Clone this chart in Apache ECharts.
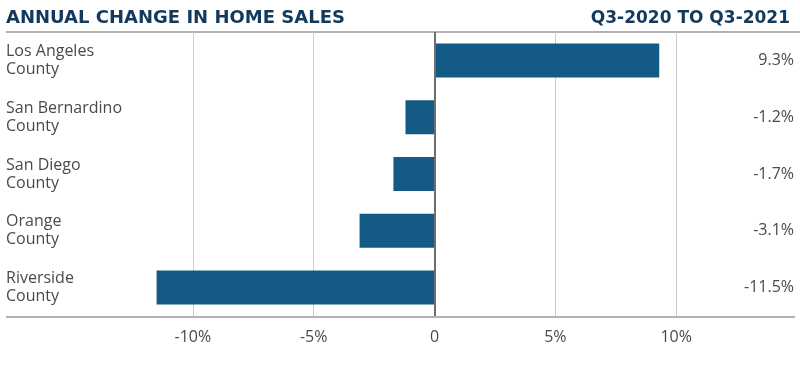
<!DOCTYPE html>
<html>
<head>
<meta charset="utf-8">
<script src="https://cdn.jsdelivr.net/npm/echarts@6/dist/echarts.min.js"></script>
<style>html,body{margin:0;padding:0;background:#fff;}#c{width:800px;height:367px;}</style>
</head>
<body>
<div id="c"></div>
<script>
const categories = ['Los Angeles\nCounty', 'San Bernardino\nCounty', 'San Diego\nCounty', 'Orange\nCounty', 'Riverside\nCounty'];
const values = [9.3, -1.2, -1.7, -3.1, -11.5];
const valueLabels = ['9.3%', '-1.2%', '-1.7%', '-3.1%', '-11.5%'];
const xTicks = [-15, -10, -5, 0, 5, 10, 15];
const titleText = 'ANNUAL CHANGE IN HOME SALES';
const subtitleText = 'Q3-2020 TO Q3-2021';

const chart = echarts.init(document.getElementById('c'), null, {renderer: 'canvas'});
const labelFont = 'Open Sans';
const navy = '#133a5e';
const textGray = '#4a4a4a';
chart.setOption({
  animation: false,
  grid: {left: 72, right: 1, top: 32, height: 284},
  xAxis: {
    type: 'value', min: -15, max: 15, interval: 5,
    axisLine: {show: false}, axisTick: {show: false},
    splitLine: {show: true, showMinLine: false, showMaxLine: false, lineStyle: {color: '#cccccc', width: 1}},
    axisLabel: {
      margin: 13, color: textGray, fontSize: 16, fontFamily: labelFont,
      formatter: v => (v === -15 || v === 15) ? '' : (v === 0 ? '0' : v + '%')
    }
  },
  yAxis: [{
    type: 'category', inverse: true, data: categories,
    axisLine: {show: false}, axisTick: {show: false},
    axisLabel: {align: 'left', margin: 66, color: textGray, fontSize: 16, lineHeight: 18, fontFamily: labelFont}
  }, {
    type: 'category', inverse: true, position: 'right', data: categories,
    axisLine: {show: false}, axisTick: {show: false},
    axisLabel: {align: 'right', margin: -3, color: textGray, fontSize: 16, fontFamily: labelFont,
      formatter: (v, i) => valueLabels[i]}
  }],
  series: [{
    type: 'bar', data: values, barWidth: 34,
    itemStyle: {color: '#135a84'},
    markLine: {
      silent: true, symbol: 'none', label: {show: false},
      lineStyle: {color: '#6e6e6e', width: 2, type: 'solid'},
      data: [{xAxis: 0}]
    }
  }],
  graphic: [
    {type: 'text', left: 6, top: 9, style: {text: titleText, fill: navy, font: 'bold 18px "DejaVu Sans"'}},
    {type: 'text', right: 10, top: 10, style: {text: subtitleText, fill: navy, font: 'bold 17px "DejaVu Sans"'}},
    {type: 'line', shape: {x1: 6, y1: 32, x2: 800, y2: 32}, style: {stroke: '#999', lineWidth: 1.5}},
    {type: 'line', shape: {x1: 6, y1: 317, x2: 795, y2: 317}, style: {stroke: '#999', lineWidth: 1.5}, z: 10}
  ]
});
</script>
</body>
</html>
